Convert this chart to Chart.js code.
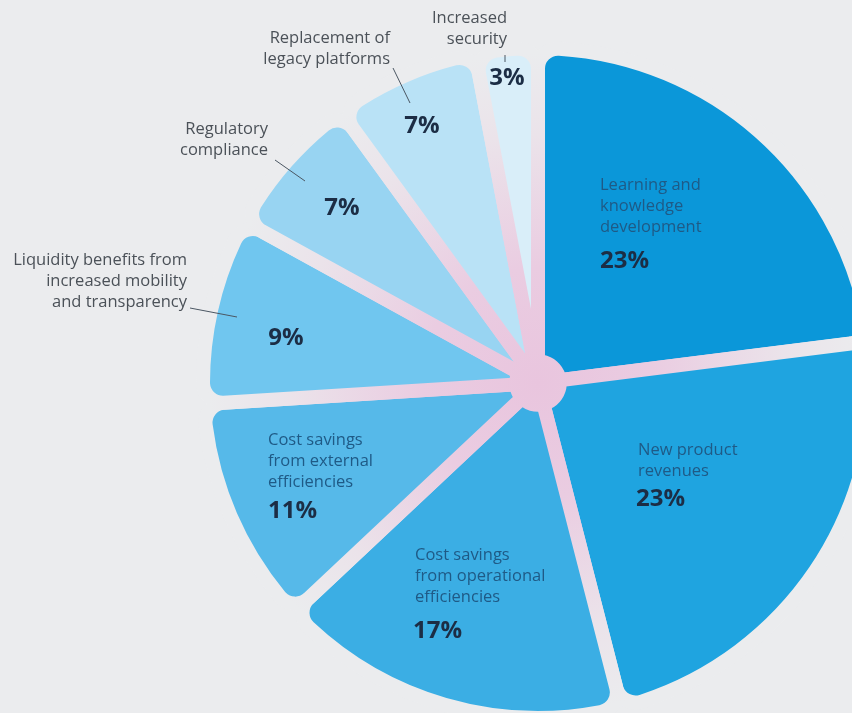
<!DOCTYPE html>
<html>
<head>
<meta charset="utf-8">
<script src="https://cdn.jsdelivr.net/npm/chart.js@4.4.1/dist/chart.umd.min.js"></script>
<style>
	html, body { margin: 0; padding: 0; background: #ebecee; }
	#wrap { width: 852px; height: 713px; position: relative; }
</style>
</head>
<body>
<div id="wrap"><canvas id="pieChart"></canvas></div>
<script>
// data
const categories = [
	['Learning and', 'knowledge', 'development'],
	['New product', 'revenues'],
	['Cost savings', 'from operational', 'efficiencies'],
	['Cost savings', 'from external', 'efficiencies'],
	['Liquidity benefits from', 'increased mobility', 'and transparency'],
	['Regulatory', 'compliance'],
	['Replacement of', 'legacy platforms'],
	['Increased', 'security'],
];
const values = [23, 23, 17, 11, 9, 7, 7, 3];
const colors = ['#0b97d9', '#1fa4e0', '#3baee4', '#56b9e9', '#70c6ef', '#98d4f2', '#b9e2f6', '#d9eef9'];

// label placement, offsets from the pie centre (px)
const labelPos = [
	{ inside: true, label: [62, -198], pct: [62, -122] },
	{ inside: true, label: [100, 67], pct: [98, 116] },
	{ inside: true, label: [-123, 172], pct: [-125, 248] },
	{ inside: true, label: [-270, 57], pct: [-270, 128] },
	{ inside: false, label: [-351, -123], pct: [-252, -45], leader: [[-348, -75], [-301, -66]] },
	{ inside: false, label: [-270, -254], pct: [-196, -175], leader: [[-263, -223], [-233, -202]] },
	{ inside: false, label: [-148, -345], pct: [-116, -257], leader: [[-145, -315], [-128, -280]] },
	{ inside: false, label: [-31, -365], pct: [-31, -305], leader: [[-33, -328], [-33, -321]] },
];

const FONT = '"Open Sans", sans-serif';

function gapGradient(chart) {
	const a = chart.chartArea;
	if (!a) return '#ebcde2';
	const cx = (a.left + a.right) / 2;
	const cy = (a.top + a.bottom) / 2;
	const g = chart.ctx.createRadialGradient(cx, cy, 0, cx, cy, 330);
	g.addColorStop(0, '#e9c5de');
	g.addColorStop(0.35, '#eaccE1');
	g.addColorStop(0.75, '#ebe3ea');
	g.addColorStop(1, '#ebecee');
	return g;
}

const hubPlugin = {
	id: 'hub',
	beforeDatasetsDraw(chart) {
		const arc = chart.getDatasetMeta(0).data[0];
		const ctx = chart.ctx;
		ctx.save();
		ctx.fillStyle = gapGradient(chart);
		ctx.beginPath();
		ctx.arc(arc.x, arc.y, 60, 0, Math.PI * 2);
		ctx.fill();
		ctx.restore();
	},
};

const labelPlugin = {
	id: 'sliceLabels',
	afterDatasetsDraw(chart) {
		const ctx = chart.ctx;
		const arcs = chart.getDatasetMeta(0).data;
		ctx.save();
		arcs.forEach((arc, i) => {
			const p = labelPos[i];
			const cx = arc.x, cy = arc.y;
			const lines = categories[i];
			ctx.textBaseline = 'middle';
			ctx.font = '16.5px ' + FONT;
			if (p.inside) {
				ctx.fillStyle = '#1f5a86';
				ctx.textAlign = 'left';
				lines.forEach((t, k) => ctx.fillText(t, cx + p.label[0], cy + p.label[1] + k * 21));
				ctx.font = '700 24px ' + FONT;
				ctx.fillStyle = '#1c2d45';
				ctx.fillText(values[i] + '%', cx + p.pct[0], cy + p.pct[1]);
			} else {
				ctx.fillStyle = '#4b5158';
				ctx.textAlign = 'right';
				lines.forEach((t, k) => ctx.fillText(t, cx + p.label[0], cy + p.label[1] + k * 21));
				ctx.strokeStyle = '#4b5763';
				ctx.lineWidth = 1;
				ctx.beginPath();
				ctx.moveTo(cx + p.leader[0][0], cy + p.leader[0][1]);
				ctx.lineTo(cx + p.leader[1][0], cy + p.leader[1][1]);
				ctx.stroke();
				ctx.font = '700 24px ' + FONT;
				ctx.fillStyle = '#1c2d45';
				ctx.textAlign = 'center';
				ctx.fillText(values[i] + '%', cx + p.pct[0], cy + p.pct[1]);
			}
		});
		ctx.restore();
	},
};

var pie = document.getElementById('pieChart');
var myPie = new Chart(pie, {
	type: 'pie',
	data: {
		labels: categories.map((c) => c.join(' ')),
		datasets: [{
			data: values,
			backgroundColor: colors,
			borderColor: (c) => gapGradient(c.chart),
			borderWidth: 14,
			borderRadius: { outerStart: 20, outerEnd: 20, innerStart: 4, innerEnd: 4 },
		}],
	},
	options: {
		responsive: true,
		maintainAspectRatio: false,
		animation: false,
		events: [],
		radius: 335,
		cutout: '6.5%',
		rotation: 0,
		layout: { padding: { left: 224, top: 53, right: 0, bottom: 0 } },
		plugins: {
			legend: { display: false },
			tooltip: { enabled: false },
		},
	},
	plugins: [hubPlugin, labelPlugin],
});
</script>
</body>
</html>
